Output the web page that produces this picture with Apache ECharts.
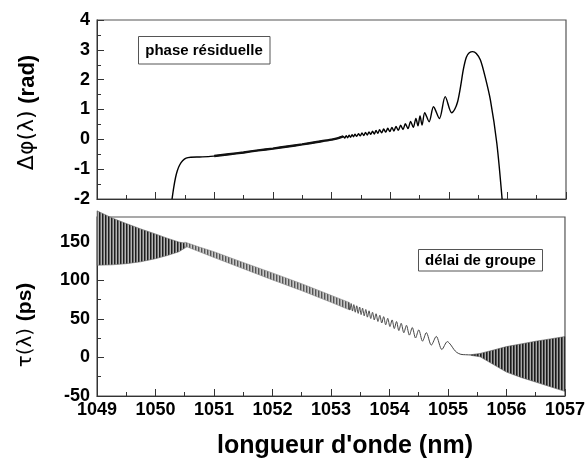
<!DOCTYPE html>
<html><head><meta charset="utf-8">
<script src="https://cdn.jsdelivr.net/npm/echarts@6/dist/echarts.min.js"></script>
<style>html,body{margin:0;padding:0;background:#fff}#c{width:588px;height:462px}</style>
</head><body><div id="c"></div>
<script>
// ---- tick labels ----
const xTickLabels = [1049, 1050, 1051, 1052, 1053, 1054, 1055, 1056, 1057];
const phaseTickLabels = [-2, -1, 0, 1, 2, 3, 4];
const delayTickLabels = [-50, 0, 50, 100, 150];

// ---- top panel: residual phase (rad) ----
const phaseLambda = [1050.28, 1050.31, 1050.34, 1050.37, 1050.41, 1050.46, 1050.52, 1050.60, 1050.75, 1050.90,
  1051.00, 1051.25, 1051.50, 1051.75, 1052.00, 1052.25, 1052.50, 1052.75, 1053.00, 1053.10,
  1053.20, 1053.225, 1053.25, 1053.275, 1053.30, 1053.325, 1053.35, 1053.375, 1053.40, 1053.43,
  1053.46, 1053.49, 1053.52, 1053.55, 1053.58, 1053.61, 1053.64, 1053.67, 1053.70, 1053.73,
  1053.76, 1053.79, 1053.82, 1053.855, 1053.89, 1053.925, 1053.96, 1053.995, 1054.03, 1054.065,
  1054.10, 1054.14, 1054.18, 1054.22, 1054.26, 1054.305, 1054.35, 1054.395, 1054.44, 1054.475,
  1054.51, 1054.545, 1054.59, 1054.665, 1054.74, 1054.84, 1054.94, 1055.05, 1055.10, 1055.15,
  1055.20, 1055.25, 1055.30, 1055.35, 1055.41, 1055.47, 1055.54, 1055.62, 1055.71, 1055.82, 1055.91];
const phaseValue = [-2.00, -1.60, -1.28, -1.05, -0.86, -0.72, -0.63, -0.60, -0.59, -0.58,
  -0.56, -0.50, -0.44, -0.37, -0.31, -0.24, -0.17, -0.09, -0.01, 0.03,
  0.10, 0.04, 0.12, 0.055, 0.14, 0.07, 0.155, 0.085, 0.17, 0.10,
  0.19, 0.115, 0.21, 0.13, 0.23, 0.145, 0.25, 0.165, 0.27, 0.18,
  0.295, 0.20, 0.32, 0.22, 0.345, 0.24, 0.37, 0.26, 0.40, 0.28,
  0.43, 0.30, 0.47, 0.33, 0.52, 0.36, 0.60, 0.40, 0.70, 0.45,
  0.78, 0.48, 0.89, 0.59, 1.09, 0.70, 1.43, 0.89, 1.00, 1.25,
  1.75, 2.35, 2.75, 2.90, 2.94, 2.88, 2.66, 2.10, 1.32, -0.13, -2.00];

// ---- bottom panel: group delay (ps) ----
// dense oscillation envelopes
const bandLeftLambda = [1049.00, 1049.25, 1049.50, 1049.75, 1050.00, 1050.20, 1050.40, 1050.55];
const bandLeftUpper  = [190, 181, 173.5, 166.5, 160, 154.5, 149.5, 147.5];
const bandLeftLower  = [119.5, 120, 121.5, 124, 128, 132, 137, 144];

const bandMidLambda = [1050.50, 1050.75, 1051.00, 1051.50, 1052.00, 1052.50, 1053.00, 1053.32];
const bandMidUpper  = [149.5, 143, 137, 123, 109.5, 95.5, 80.5, 71];
const bandMidLower  = [144.5, 137, 129.5, 115, 100.5, 86.5, 71.5, 61.5];

const bandRightLambda = [1055.40, 1055.55, 1055.75, 1056.00, 1056.25, 1056.50, 1056.75, 1057.00];
const bandRightUpper  = [3.6, 5.2, 9, 14, 17.5, 21, 24, 27];
const bandRightLower  = [2.6, 0.8, -8, -19, -26, -32, -38, -44];

// resolved ripples
const delayLambda = [1053.30, 1053.3225, 1053.345, 1053.3675, 1053.39, 1053.415, 1053.44, 1053.465, 1053.49, 1053.515,
  1053.54, 1053.5675, 1053.595, 1053.6225, 1053.65, 1053.68, 1053.71, 1053.74, 1053.77, 1053.8025,
  1053.835, 1053.8675, 1053.90, 1053.935, 1053.97, 1054.0075, 1054.045, 1054.0825, 1054.12, 1054.16,
  1054.20, 1054.245, 1054.29, 1054.34, 1054.39, 1054.445, 1054.50, 1054.565, 1054.63, 1054.715,
  1054.80, 1054.895, 1054.99, 1055.05, 1055.10, 1055.15, 1055.22, 1055.30, 1055.40, 1055.50];
const delayValue = [71.2, 61.5, 69.8, 60.1, 68.4, 58.6, 66.9, 57.1, 65.3, 55.5,
  63.8, 53.9, 62.1, 52.2, 60.4, 50.4, 58.5, 48.6, 56.6, 46.6,
  54.6, 44.6, 52.8, 42.3, 50.7, 40.0, 48.6, 37.4, 46.5, 34.8,
  44.2, 32.0, 41.6, 28.9, 38.7, 25.2, 35.7, 21.1, 32.1, 16.0,
  27.2, 10.3, 20.5, 16, 10.5, 6.5, 4, 3.5, 3.2, 3];

const FONT = '"Liberation Sans", Arial, sans-serif';
const AX = '#333';

const phaseData = phaseLambda.map((x, i) => [x, phaseValue[i]]);
const phaseThick = phaseData.filter(p => p[0] >= 1050.95 && p[0] <= 1053.2);
const delayData = delayLambda.map((x, i) => [x, delayValue[i]]);

// vertical stripe pattern imitating the unresolved fast oscillation
function stripes(cols) {
  const cv = document.createElement('canvas');
  cv.width = cols.length; cv.height = 2;
  const ctx = cv.getContext('2d');
  cols.forEach((c, i) => { ctx.fillStyle = c; ctx.fillRect(i, 0, 1, 2); });
  return { image: cv, repeat: 'repeat' };
}
const patLeft = stripes(['#1e1e1e', '#6a6a6a', '#b4b4b4']);
const patMid = stripes(['#555555', '#9a9a9a', '#c8c8c8']);
const patRight = stripes(['#1a1a1a', '#555555', '#a8a8a8']);

function bandSeries(xs, ups, los, fill, stroke) {
  return {
    type: 'custom', xAxisIndex: 1, yAxisIndex: 1, clip: false, silent: true, z: 3,
    data: xs.map((x, i) => [x, ups[i], los[i]]),
    encode: { x: 0, y: [1, 2] },
    renderItem: function (params, api) {
      if (params.dataIndex !== 0) return null;
      const pts = [];
      for (let i = 0; i < xs.length; i++) pts.push(api.coord([xs[i], ups[i]]));
      for (let i = xs.length - 1; i >= 0; i--) pts.push(api.coord([xs[i], los[i]]));
      return { type: 'polygon', shape: { points: pts }, style: { fill: fill, stroke: stroke, lineWidth: 0.6 } };
    }
  };
}

function xAxisCfg(grid, showLabels) {
  return {
    type: 'value', gridIndex: grid, min: xTickLabels[0], max: xTickLabels[xTickLabels.length - 1], interval: 1,
    axisLine: { show: true, onZero: false, lineStyle: { color: AX, width: 1 } },
    axisTick: { show: true, inside: true, length: 7, lineStyle: { color: AX, width: 1 } },
    minorTick: { show: true, splitNumber: 2, length: 4, lineStyle: { color: AX, width: 1 } },
    splitLine: { show: false }, minorSplitLine: { show: false },
    axisLabel: { show: showLabels, margin: 5, fontFamily: FONT, fontWeight: 'bold', fontSize: 18, color: '#000',
      formatter: v => (xTickLabels.indexOf(v) >= 0 ? String(v) : '') }
  };
}
function yAxisCfg(grid, ticks, max) {
  return {
    type: 'value', gridIndex: grid, min: ticks[0], max: max, interval: ticks[1] - ticks[0],
    axisLine: { show: true, onZero: false, lineStyle: { color: AX, width: 1 } },
    axisTick: { show: true, inside: true, length: 7, lineStyle: { color: AX, width: 1 } },
    minorTick: { show: true, splitNumber: 2, length: 4, lineStyle: { color: AX, width: 1 } },
    splitLine: { show: false }, minorSplitLine: { show: false },
    axisLabel: { margin: 7, fontFamily: FONT, fontWeight: 'bold', fontSize: 18, color: '#000',
      showMaxLabel: ticks.indexOf(max) >= 0,
      formatter: v => (ticks.indexOf(v) >= 0 ? String(v) : '') }
  };
}

const chart = echarts.init(document.getElementById('c'), null, { renderer: 'canvas' });
chart.setOption({
  animation: false,
  backgroundColor: '#fff',
  grid: [
    { left: 97, top: 20, width: 469, height: 179, show: true, borderColor: '#555', borderWidth: 1.2, backgroundColor: 'transparent' },
    { left: 97, top: 217, width: 469, height: 179, show: true, borderColor: '#555', borderWidth: 1.2, backgroundColor: 'transparent' }
  ],
  xAxis: [xAxisCfg(0, false), xAxisCfg(1, true)],
  yAxis: [yAxisCfg(0, phaseTickLabels, 4), yAxisCfg(1, delayTickLabels, 182)],
  series: [
    { type: 'line', xAxisIndex: 0, yAxisIndex: 0, data: phaseData, showSymbol: false, smooth: 0.3,
      lineStyle: { color: '#000', width: 1.4 }, z: 4 },
    { type: 'line', xAxisIndex: 0, yAxisIndex: 0, data: phaseThick, showSymbol: false, smooth: 0.3,
      lineStyle: { color: '#111', width: 2.4 }, z: 4 },
    bandSeries(bandLeftLambda, bandLeftUpper, bandLeftLower, patLeft, '#666'),
    bandSeries(bandMidLambda, bandMidUpper, bandMidLower, patMid, '#888'),
    bandSeries(bandRightLambda, bandRightUpper, bandRightLower, patRight, '#555'),
    { type: 'line', xAxisIndex: 1, yAxisIndex: 1, data: delayData, showSymbol: false, smooth: 0.3,
      lineStyle: { color: '#444', width: 1 }, z: 4 }
  ],
  graphic: [
    { type: 'rect', shape: { x: 138.5, y: 36.5, width: 131.5, height: 27.5 }, style: { fill: '#fff', stroke: '#555', lineWidth: 1 }, z: 10 },
    { type: 'text', x: 204, y: 50.5, style: { text: 'phase résiduelle', font: 'bold 15px ' + FONT, fill: '#000', align: 'center', verticalAlign: 'middle' }, z: 11 },
    { type: 'rect', shape: { x: 418.5, y: 249.5, width: 124, height: 21.5 }, style: { fill: '#fff', stroke: '#555', lineWidth: 1 }, z: 10 },
    { type: 'text', x: 480.5, y: 260.5, style: { text: 'délai de groupe', font: 'bold 15px ' + FONT, fill: '#000', align: 'center', verticalAlign: 'middle' }, z: 11 },
    { type: 'text', x: 345, y: 446, style: { text: "longueur d'onde (nm)", font: 'bold 25px ' + FONT, fill: '#000', align: 'center', verticalAlign: 'middle' }, z: 11 },
    { type: 'text', x: 27.5, y: 112.5, rotation: Math.PI / 2,
      style: { text: '{g|Δφ(λ)}  {b|(rad)}', align: 'center', verticalAlign: 'middle', fill: '#000',
        rich: { g: { fontFamily: '"DejaVu Sans", sans-serif', fontSize: 22, fontWeight: 'normal', fill: '#000' },
                b: { fontFamily: FONT, fontSize: 22, fontWeight: 'bold', fill: '#000' } } }, z: 11 },
    { type: 'text', x: 25.5, y: 325, rotation: Math.PI / 2,
      style: { text: '{g|τ(λ)}  {b|(ps)}', align: 'center', verticalAlign: 'middle', fill: '#000',
        rich: { g: { fontFamily: '"DejaVu Sans", sans-serif', fontSize: 20, fontWeight: 'normal', fill: '#000' },
                b: { fontFamily: FONT, fontSize: 21, fontWeight: 'bold', fill: '#000' } } }, z: 11 }
  ]
});
</script></body></html>
